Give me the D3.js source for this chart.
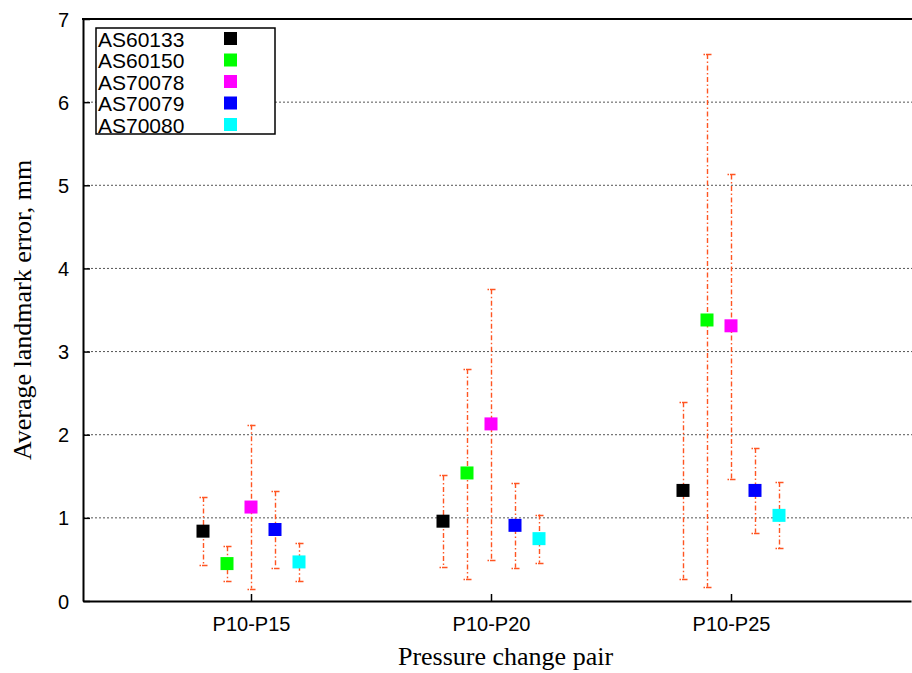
<!DOCTYPE html>
<html>
<head>
<meta charset="utf-8">
<script src="https://cdn.jsdelivr.net/npm/d3@7"></script>
<style>
  body { margin: 0; background: #fff; }
  svg { display: block; }
</style>
</head>
<body>
<div class="chart"></div>
<script>
// data
const categories = ["P10-P15", "P10-P20", "P10-P25"];
const seriesNames = ["AS60133", "AS60150", "AS70078", "AS70079", "AS70080"];
const seriesColors = ["#000000", "#00ff00", "#ff00ff", "#0000ff", "#00ffff"];

// one row per series, one column per category
const meanValues = [
  [0.84, 0.96, 1.33],
  [0.45, 1.54, 3.38],
  [1.13, 2.13, 3.31],
  [0.86, 0.91, 1.33],
  [0.47, 0.75, 1.03],
];
const lowValues = [
  [0.43, 0.41, 0.27],
  [0.24, 0.27, 0.17],
  [0.15, 0.49, 1.47],
  [0.40, 0.40, 0.82],
  [0.24, 0.46, 0.64],
];
const highValues = [
  [1.25, 1.51, 2.39],
  [0.66, 2.79, 6.58],
  [2.12, 3.75, 5.13],
  [1.32, 1.42, 1.84],
  [0.70, 1.04, 1.43],
];
const yTicks = [0, 1, 2, 3, 4, 5, 6, 7];

const W = 912, H = 673;
const plotLeft = 83, plotRight = 911, plotTop = 19, plotBottom = 601;

const svg = d3.select(".chart").append("svg")
  .attr("width", W).attr("height", H);

const x = d3.scaleLinear().domain([-0.7, 2.75]).range([plotLeft, plotRight]);
const y = d3.scaleLinear().domain([0, 7]).range([plotBottom, plotTop]);
const offset = 0.1; // spacing between series inside a group

// flatten into points
const points = [];
seriesNames.forEach((name, s) => {
  categories.forEach((c, i) => {
    points.push({
      s, name,
      xv: i + (s - 2) * offset,
      mean: meanValues[s][i],
      low: lowValues[s][i],
      high: highValues[s][i],
    });
  });
});

// grid
svg.append("g")
  .selectAll("line")
  .data(yTicks.filter((d) => d > 0 && d < 7))
  .join("line")
  .attr("x1", plotLeft).attr("x2", W)
  .attr("y1", (d) => y(d)).attr("y2", (d) => y(d))
  .attr("stroke", "#555")
  .attr("stroke-width", 1)
  .attr("stroke-dasharray", "2,2");

// error bars
const errColor = "#ff5522";
const bars = svg.append("g");
bars.selectAll(".vbar")
  .data(points)
  .join("line")
  .attr("class", "vbar")
  .attr("x1", (d) => Math.round(x(d.xv)) + 0.5)
  .attr("x2", (d) => Math.round(x(d.xv)) + 0.5)
  .attr("y1", (d) => y(d.high))
  .attr("y2", (d) => y(d.low))
  .attr("stroke", errColor)
  .attr("stroke-width", 1.4)
  .attr("stroke-dasharray", "5,2.5,1.5,2.5");

["high", "low"].forEach((k) => {
  bars.selectAll(".cap-" + k)
    .data(points)
    .join("line")
    .attr("class", "cap-" + k)
    .attr("x1", (d) => Math.round(x(d.xv)) - 3.5)
    .attr("x2", (d) => Math.round(x(d.xv)) + 4.5)
    .attr("y1", (d) => Math.round(y(d[k])) + 0.5)
    .attr("y2", (d) => Math.round(y(d[k])) + 0.5)
    .attr("stroke", errColor)
    .attr("stroke-width", 1.4)
    .attr("stroke-dasharray", "1.5,1,6");
});

// markers
const ms = 13;
svg.append("g")
  .selectAll("rect")
  .data(points)
  .join("rect")
  .attr("x", (d) => x(d.xv) - ms / 2)
  .attr("y", (d) => y(d.mean) - ms / 2)
  .attr("width", ms)
  .attr("height", ms)
  .attr("fill", (d) => seriesColors[d.s]);

// axes
const yAxis = svg.append("g")
  .attr("transform", `translate(${plotLeft},0)`)
  .call(d3.axisLeft(y).tickValues(yTicks).tickFormat(d3.format("d"))
    .tickSize(-7).tickSizeOuter(0).tickPadding(14));
const xAxis = svg.append("g")
  .attr("transform", `translate(0,${plotBottom})`)
  .call(d3.axisBottom(x).tickValues([0, 1, 2]).tickFormat((d) => categories[d])
    .tickSize(-7).tickSizeOuter(0).tickPadding(16));

[yAxis, xAxis].forEach((g) => {
  g.select(".domain").attr("stroke", "#000").attr("stroke-width", 2);
  g.selectAll(".tick line").attr("stroke", "#000").attr("stroke-width", 1.5);
  g.selectAll(".tick text")
    .attr("fill", "#000")
    .style("font-family", "'Liberation Sans', Arial, sans-serif");
});
yAxis.selectAll(".tick text").style("font-size", "20px").attr("dy", "0.35em");
xAxis.selectAll(".tick text").style("font-size", "20px");

// top border
svg.append("line")
  .attr("x1", plotLeft - 1).attr("x2", W)
  .attr("y1", plotTop).attr("y2", plotTop)
  .attr("stroke", "#000").attr("stroke-width", 2);

// axis titles
svg.append("text")
  .attr("transform", "translate(31,310) rotate(-90)")
  .attr("text-anchor", "middle")
  .style("font-family", "'Liberation Serif', 'Times New Roman', serif")
  .style("font-size", "26px")
  .text("Average landmark error, mm");

svg.append("text")
  .attr("x", 505.5).attr("y", 665)
  .attr("text-anchor", "middle")
  .style("font-family", "'Liberation Serif', 'Times New Roman', serif")
  .style("font-size", "26px")
  .text("Pressure change pair");

// legend
const legend = svg.append("g");
legend.append("rect")
  .attr("x", 96).attr("y", 28)
  .attr("width", 179).attr("height", 106)
  .attr("fill", "#fff")
  .attr("stroke", "#000")
  .attr("stroke-width", 1.5);

const rowH = 21.5;
const rows = legend.selectAll(".legend-row")
  .data(seriesNames)
  .join("g")
  .attr("class", "legend-row")
  .attr("transform", (d, i) => `translate(0, ${38.5 + i * rowH})`);

rows.append("text")
  .attr("x", 98).attr("y", 8)
  .style("font-family", "'Liberation Sans', Arial, sans-serif")
  .style("font-size", "21px")
  .text((d) => d);

rows.append("rect")
  .attr("x", 230.5 - ms / 2).attr("y", -ms / 2)
  .attr("width", ms).attr("height", ms)
  .attr("fill", (d, i) => seriesColors[i]);
</script>
</body>
</html>
